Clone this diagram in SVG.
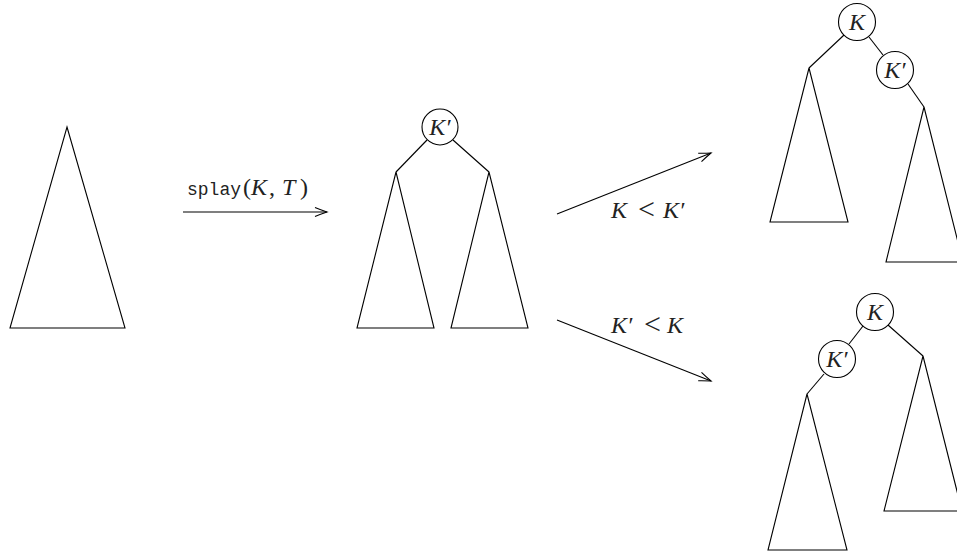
<svg xmlns="http://www.w3.org/2000/svg" width="957" height="555" viewBox="0 0 957 555">
<style>
.s{fill:none;stroke:#000;stroke-width:1.1}
.c{fill:#fff;stroke:#000;stroke-width:1.1}
.m{font-family:"Liberation Serif","DejaVu Serif",serif;font-style:italic;font-size:24px;fill:#222}
.r{font-family:"Liberation Serif","DejaVu Serif",serif;font-style:normal;font-size:24px;fill:#222}
.lt{font-family:"Liberation Serif",serif;font-style:normal;font-size:30px;fill:#222}
.t{font-family:"Liberation Mono",monospace;font-size:18px;fill:#222}
</style>
<defs>
<marker id="ah" markerUnits="userSpaceOnUse" markerWidth="20" markerHeight="14" refX="14" refY="7" orient="auto" overflow="visible">
<path d="M2,2.5 Q8,5 14,7 Q8,9 2,11.5" fill="none" stroke="#000" stroke-width="1.1"/>
</marker>
</defs>
<rect width="957" height="555" fill="#fff"/>

<g id="connectors">
<line class="s" x1="183" y1="212" x2="327" y2="212" marker-end="url(#ah)"/>
<line class="s" x1="557" y1="214" x2="711" y2="153" marker-end="url(#ah)"/>
<line class="s" x1="557" y1="320" x2="711" y2="381" marker-end="url(#ah)"/>
<line class="s" x1="427" y1="140" x2="396" y2="172"/>
<line class="s" x1="453" y1="140" x2="489" y2="172"/>
<line class="s" x1="844" y1="35" x2="809" y2="68"/>
<line class="s" x1="869" y1="37" x2="883" y2="55"/>
<line class="s" x1="908" y1="84" x2="924" y2="107"/>
<line class="s" x1="863" y1="326" x2="849" y2="344"/>
<line class="s" x1="888" y1="325" x2="923" y2="356"/>
<line class="s" x1="824" y1="374" x2="807" y2="394"/>
</g>

<g id="labels">
<text class="t" x="187" y="195">splay</text>
<text class="r" x="243" y="195">(</text>
<text class="m" x="251" y="195">K</text>
<text class="r" x="269" y="195">,</text>
<text class="m" x="282" y="195">T</text>
<text class="r" x="300" y="195">)</text>
<text class="m" x="611" y="218">K</text>
<text class="lt" x="638" y="219">&lt;</text>
<text class="m" x="663" y="218">K′</text>
<text class="m" x="611" y="333">K′</text>
<text class="lt" x="644" y="334">&lt;</text>
<text class="m" x="667" y="333">K</text>
</g>

<g id="tree-T">
<polygon class="s" points="67,127 125,328 10,328"/>
</g>

<g id="middle-tree">
<g id="mid-root"><circle class="c" cx="440" cy="127" r="18"/><text class="m" x="440" y="135" text-anchor="middle">K′</text></g>
<g id="mid-left"><polygon class="s" points="396,172 434,328 357,328"/></g>
<g id="mid-right"><polygon class="s" points="489,172 528,328 451,328"/></g>
</g>

<g id="top-tree">
<g id="top-root"><circle class="c" cx="857" cy="22" r="18.5"/><text class="m" x="857" y="30" text-anchor="middle">K</text></g>
<g id="top-child"><circle class="c" cx="895" cy="70" r="18.5"/><text class="m" x="895" y="78" text-anchor="middle">K′</text></g>
<g id="top-left"><polygon class="s" points="809,68 848,222 770,222"/></g>
<g id="top-right"><polygon class="s" points="924,107 963,262 886,262"/></g>
</g>

<g id="bottom-tree">
<g id="bot-root"><circle class="c" cx="875" cy="312" r="18.5"/><text class="m" x="875" y="320" text-anchor="middle">K</text></g>
<g id="bot-child"><circle class="c" cx="837" cy="359" r="18.5"/><text class="m" x="837" y="367" text-anchor="middle">K′</text></g>
<g id="bot-left"><polygon class="s" points="807,394 847,550 768,550"/></g>
<g id="bot-right"><polygon class="s" points="923,356 962,511 884,511"/></g>
</g>
</svg>
